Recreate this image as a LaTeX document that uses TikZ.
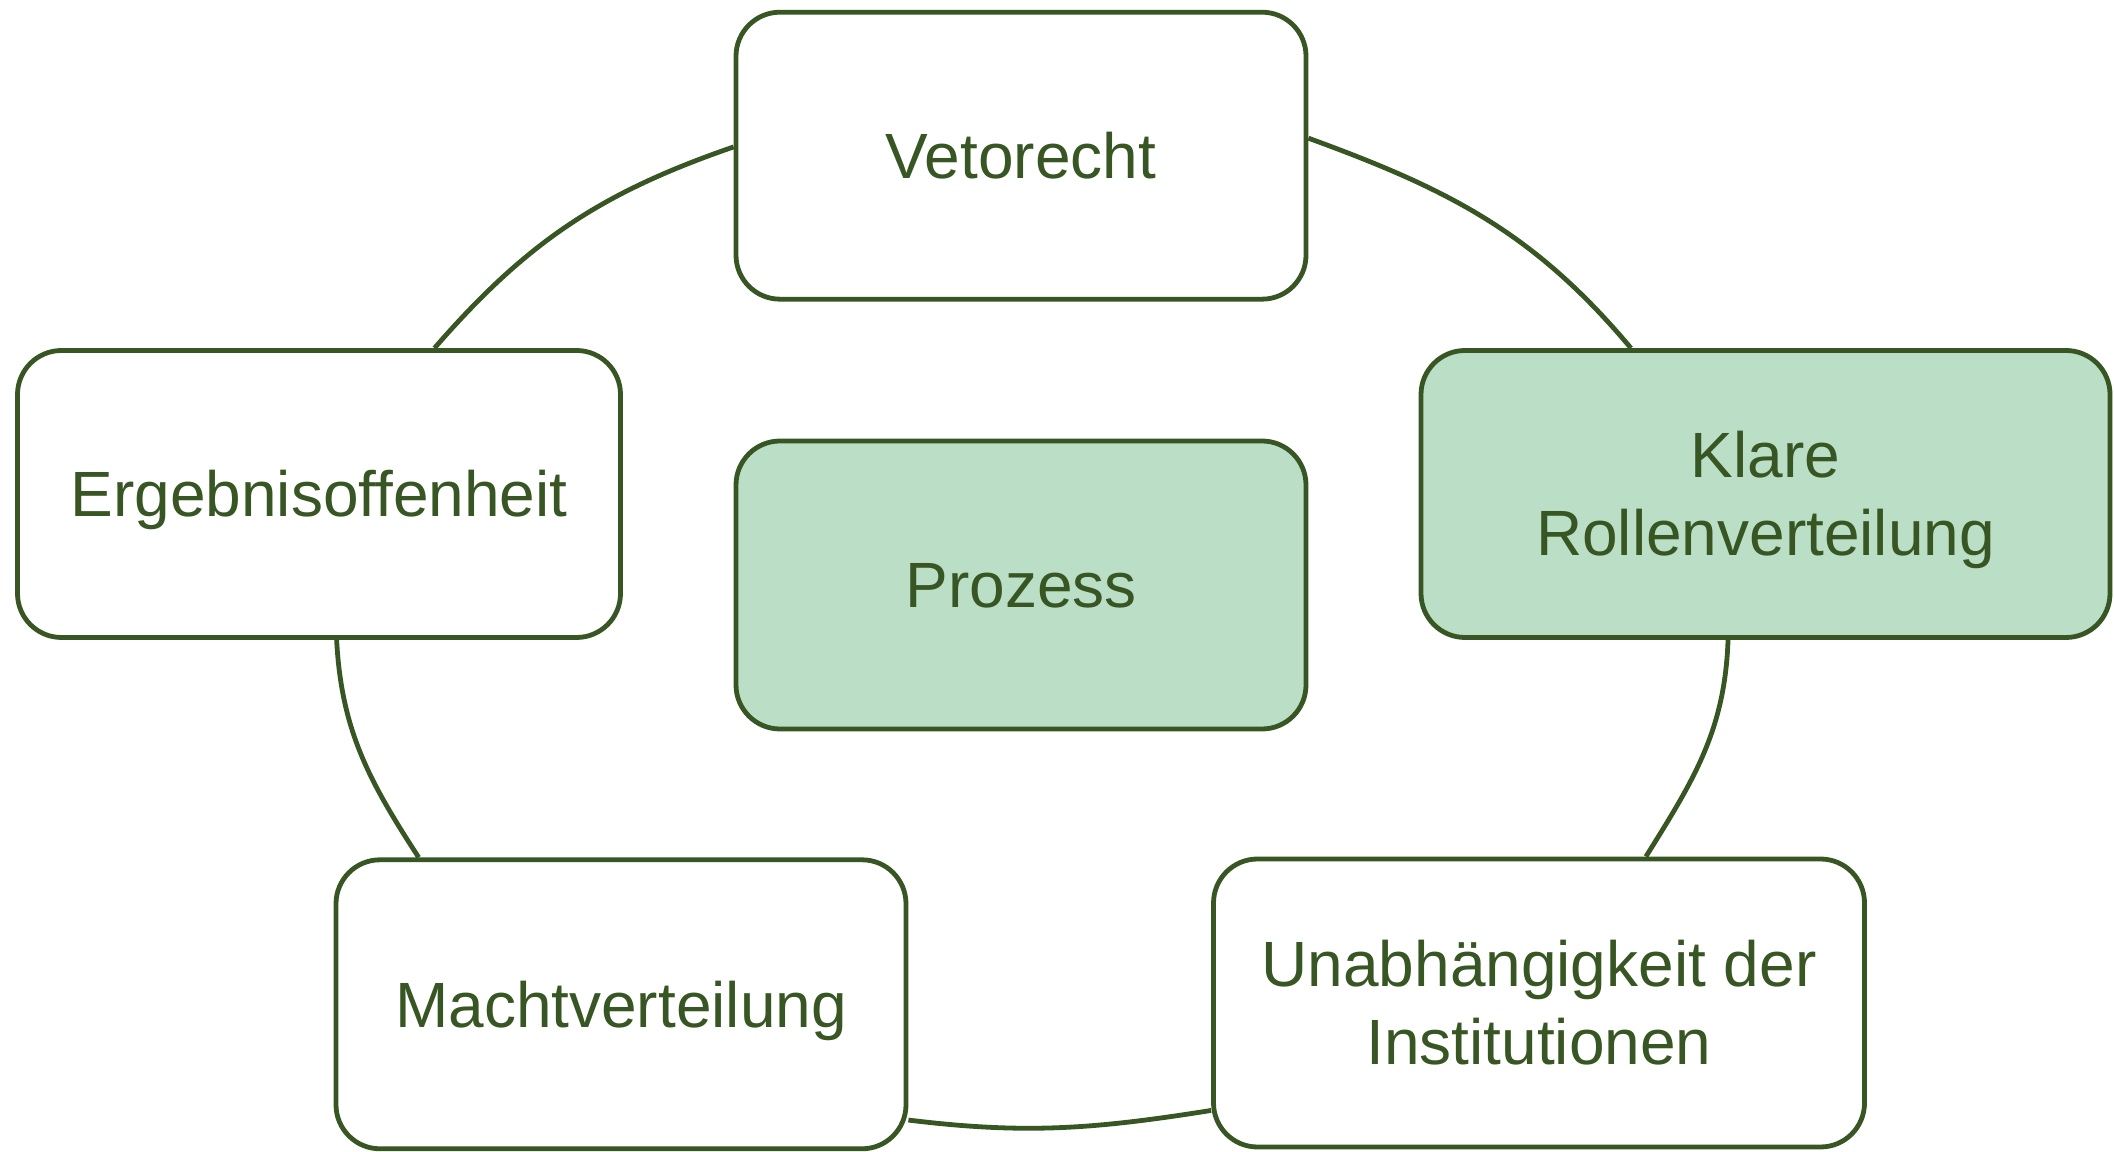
\documentclass[tikz,border=0pt]{standalone}
\usepackage{fontspec}
\setmainfont{Liberation Sans}
\usetikzlibrary{calc}
\definecolor{dkgreen}{HTML}{375623}
\definecolor{ltgreen}{HTML}{BBDEC6}
\begin{document}
\begin{tikzpicture}[x=0.5pt,y=0.5pt,
  cyclebox/.style={draw=dkgreen, line width=2.4pt, rounded corners=22pt, fill=white,
    text=dkgreen, align=center, font=\fontsize{32}{39}\selectfont, inner sep=0pt,
    text height=22.9pt, text depth=0pt},
  twoline/.style={text height=61.9pt, text depth=0pt},
  filledbox/.style={cyclebox, fill=ltgreen},
  link/.style={draw=dkgreen, line width=2.4pt}]
\useasboundingbox (0,0) rectangle (2114,1151);
\node[cyclebox, minimum width=285pt, minimum height=143.5pt] (veto) at (1021,995.3) {Vetorecht};
\node[cyclebox, minimum width=301.5pt, minimum height=143.5pt] (ergeb) at (319,657) {Ergebnisoffenheit};
\node[filledbox, minimum width=285pt, minimum height=144pt] (proz) at (1021,566) {Prozess};
\node[filledbox, twoline, minimum width=344.5pt, minimum height=143.5pt] (klare) at (1765.5,657) {Klare\\Rollenverteilung};
\node[cyclebox, minimum width=285pt, minimum height=144.5pt] (macht) at (621,146.7) {Machtverteilung};
\node[cyclebox, twoline, minimum width=325.5pt, minimum height=144pt] (unabh) at (1539,148) {Unabhängigkeit der\\Institutionen};
\draw[link] ($(ergeb.north west)!0.69!(ergeb.north east)$) to[out=49,in=199] ($(veto.north west)!0.47!(veto.south west)$);
\draw[link] ($(veto.north east)!0.44!(veto.south east)$) to[out=-20,in=130] ($(klare.north west)!0.306!(klare.north east)$);
\draw[link] ($(klare.south west)!0.446!(klare.south east)$) to[out=-92,in=58] ($(unabh.north west)!0.663!(unabh.north east)$);
\draw[link] ($(macht.north east)!0.894!(macht.south east)$) to[out=-7,in=189] ($(unabh.north west)!0.867!(unabh.south west)$);
\draw[link] ($(ergeb.south west)!0.529!(ergeb.south east)$) to[out=-87,in=123] ($(macht.north west)!0.148!(macht.north east)$);
\end{tikzpicture}
\end{document}
